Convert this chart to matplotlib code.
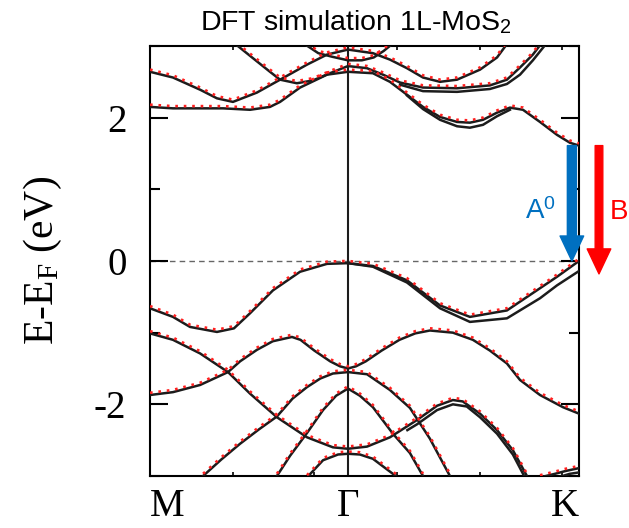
import matplotlib
matplotlib.use("Agg")
import matplotlib.pyplot as plt
import matplotlib.transforms as mtransforms

plt.rcParams['font.family'] = ['Liberation Serif', 'DejaVu Serif']
plt.rcParams['mathtext.fontset'] = 'custom'
plt.rcParams['mathtext.rm'] = 'Liberation Serif'
plt.rcParams['mathtext.it'] = 'Liberation Serif:italic'
plt.rcParams['mathtext.sf'] = 'Liberation Sans'

# path M - Gamma - K (Gamma-K is ~1.17x longer than M-Gamma)
k_points = [0.0, 1.0, 2.167]
k_labels = ["M", "Γ", "K"]
k_minor = [0.419, 0.828, 1.247, 1.667, 2.081]
y_major = [-2, 0, 2]
y_labels = ["-2", "0", "2"]
y_minor = [-3, -1, 1, 3]

# ---- valence bands (eV) ----
vb1_k = [0, 0.116, 0.202, 0.338, 0.424, 0.505, 0.621, 0.758, 0.894, 1.0,
         1.126, 1.298, 1.465, 1.616, 1.803, 1.970, 2.056, 2.167]
vb1_e = [-0.66, -0.78, -0.92, -0.99, -0.94, -0.73, -0.41, -0.15, -0.04, -0.03,
         -0.07, -0.27, -0.62, -0.78, -0.69, -0.38, -0.22, 0.0]
vb1s_k = [1.0, 1.126, 1.298, 1.465, 1.616, 1.803, 1.970, 2.056, 2.167]
vb1s_e = [-0.03, -0.08, -0.30, -0.66, -0.85, -0.80, -0.52, -0.34, -0.14]

vb2_k = [0, 0.116, 0.253, 0.394, 0.505, 0.641, 0.793, 0.924, 1.0, 1.096,
         1.212, 1.348, 1.45, 1.53, 1.58, 1.667, 1.753, 1.833, 1.904]
vb2_e = [-1.01, -1.10, -1.29, -1.55, -1.85, -2.18, -2.46, -2.60, -2.62, -2.59,
         -2.46, -2.22, -2.02, -1.94, -1.96, -2.13, -2.36, -2.64, -3.0]
vb2s_k = [1.3, 1.348, 1.45, 1.53, 1.6, 1.667, 1.753, 1.833, 1.89]
vb2s_e = [-2.36, -2.28, -2.08, -2.00, -2.03, -2.18, -2.41, -2.70, -3.0]

vb3_k = [0, 0.116, 0.253, 0.394, 0.455, 0.540, 0.62, 0.717, 0.76, 0.83, 0.91,
         0.96, 1.0, 1.04, 1.09, 1.17, 1.26, 1.34, 1.414, 1.53, 1.631, 1.717,
         1.803, 1.869, 1.970, 2.086, 2.167]
vb3_e = [-1.87, -1.83, -1.73, -1.55, -1.40, -1.24, -1.12, -1.06, -1.10, -1.25,
         -1.40, -1.47, -1.50, -1.47, -1.40, -1.25, -1.10, -1.01, -0.97, -1.00,
         -1.10, -1.25, -1.43, -1.66, -1.87, -2.04, -2.13]

vb4_k = [0.268, 0.36, 0.455, 0.55, 0.641, 0.72, 0.793, 0.86, 0.924, 1.0,
         1.096, 1.212, 1.313, 1.414, 1.515]
vb4_e = [-3.0, -2.77, -2.55, -2.35, -2.17, -1.92, -1.76, -1.64, -1.57, -1.55,
         -1.58, -1.80, -2.05, -2.48, -3.0]

vb5_k = [0.641, 0.707, 0.793, 0.874, 0.94, 1.0, 1.06, 1.126, 1.227, 1.313, 1.379]
vb5_e = [-3.0, -2.72, -2.40, -2.08, -1.88, -1.78, -1.88, -2.04, -2.41, -2.68, -3.0]

vb6_k = [0.793, 0.874, 0.95, 1.0, 1.06, 1.126, 1.227, 1.25]
vb6_e = [-3.02, -2.78, -2.70, -2.69, -2.70, -2.76, -2.97, -3.02]

vb7_k = [1.97, 2.045, 2.1, 2.167]
vb7_e = [-3.02, -2.97, -2.93, -2.89]
vb7s_k = [2.06, 2.12, 2.167]
vb7s_e = [-3.02, -2.97, -2.95]

# ---- conduction bands ----
cb1_k = [0, 0.116, 0.253, 0.369, 0.505, 0.606, 0.657, 0.758, 0.894, 1.0,
         1.126, 1.212, 1.298, 1.379, 1.465, 1.551, 1.616, 1.682, 1.753, 1.818,
         1.884, 1.970, 2.056, 2.121, 2.167]
cb1_e = [2.15, 2.13, 2.13, 2.13, 2.11, 2.15, 2.22, 2.42, 2.60, 2.64,
         2.62, 2.50, 2.32, 2.15, 2.01, 1.94, 1.93, 1.97, 2.07, 2.14,
         2.11, 1.94, 1.76, 1.65, 1.61]
cb1s_k = [1.298, 1.379, 1.465, 1.551, 1.616, 1.682, 1.753, 1.818]
cb1s_e = [2.31, 2.12, 1.97, 1.88, 1.86, 1.90, 2.02, 2.11]

cb2_k = [0.439, 0.520, 0.606, 0.657, 0.742, 0.823, 0.909, 1.0, 1.096, 1.177,
         1.263, 1.379, 1.551, 1.717, 1.803, 1.869, 1.934, 1.970]
cb2_e = [3.01, 2.83, 2.64, 2.53, 2.48, 2.52, 2.62, 2.72, 2.69, 2.60,
         2.49, 2.42, 2.41, 2.45, 2.53, 2.70, 2.88, 3.01]
cb2s_k = [1.263, 1.379, 1.551, 1.717, 1.803, 1.869, 1.934, 1.995]
cb2s_e = [2.46, 2.37, 2.36, 2.40, 2.47, 2.60, 2.80, 3.01]

cb3_k = [0, 0.116, 0.253, 0.338, 0.419, 0.540, 0.657, 0.793, 0.894, 1.0,
         1.126, 1.212, 1.298, 1.379, 1.465, 1.551, 1.667, 1.753, 1.793, 1.81]
cb3_e = [2.64, 2.56, 2.39, 2.27, 2.22, 2.35, 2.53, 2.74, 2.88, 2.95,
         2.90, 2.81, 2.69, 2.56, 2.50, 2.53, 2.67, 2.84, 2.99, 3.05]

cb4_k = [0.79, 0.85, 0.92, 1.0, 1.07, 1.13, 1.18, 1.22]
cb4_e = [3.01, 2.90, 2.85, 2.80, 2.80, 2.84, 2.93, 3.02]

main_bands = [(vb1_k, vb1_e), (vb2_k, vb2_e), (vb3_k, vb3_e), (vb4_k, vb4_e),
              (vb5_k, vb5_e), (vb6_k, vb6_e), (vb7_k, vb7_e),
              (cb1_k, cb1_e), (cb2_k, cb2_e), (cb3_k, cb3_e), (cb4_k, cb4_e)]
split_bands = [(vb1s_k, vb1s_e), (vb2s_k, vb2s_e), (vb7s_k, vb7s_e),
               (cb1s_k, cb1s_e), (cb2s_k, cb2s_e)]

fig = plt.figure(figsize=(6.29, 5.28), dpi=100)
ax = fig.add_axes([0.2385, 0.0985, 0.682, 0.8144])

black = "#1c1c1c"
for k, e in main_bands + split_bands:
    ax.plot(k, e, color=black, lw=1.8, solid_joinstyle="round", zorder=3)

# red dotted bands sit a hair above the black ones
red_shift = ax.transData + mtransforms.ScaledTranslation(0, 1.6/72, fig.dpi_scale_trans)
for k, e in main_bands:
    ax.plot(k, e, color="#ff2020", lw=1.9, linestyle=(0, (1, 2.2)),
            transform=red_shift, zorder=4)

ax.axvline(k_points[1], color=black, lw=1.5, zorder=2)
ax.axhline(0, color="#666666", lw=1.0, linestyle=(0, (4, 3)), zorder=1)

ax.set_xlim(k_points[0], k_points[-1])
ax.set_ylim(-3, 3)
for s in ax.spines.values():
    s.set_linewidth(1.5)

ax.set_yticks(y_major, y_labels)
ax.set_yticks(y_minor, minor=True)
ax.set_xticks(k_points, k_labels)
ax.set_xticks(k_minor, minor=True)
ax.tick_params(axis="y", which="major", direction="in", length=13, width=1.5,
               left=True, right=True, labelsize=28, pad=17)
ax.tick_params(axis="y", which="minor", direction="in", length=7, width=1.5,
               left=True, right=True)
ax.tick_params(axis="x", which="major", length=0, labelsize=28, pad=9)
ax.tick_params(axis="x", which="minor", direction="in", length=3, width=1.2,
               top=True, bottom=True)
xl = ax.get_xticklabels()
xl[0].set_ha("left")
xl[2].set_ha("right")

ax.set_ylabel(r"E-E$_\mathrm{F}$ (eV)", fontsize=30)
ax.yaxis.set_label_coords(-0.2, 0.5)

fig.text(0.565, 0.958, r"DFT simulation 1L-MoS$_\mathsf{2}$", family="Liberation Sans",
         fontsize=20.5, ha="center", va="center")

# optical transitions at K
k_a, k_b = 2.131, 2.268
ax.annotate("", xy=(k_a, vb1_e[-1]), xytext=(k_a, cb1_e[-1]),
            arrowprops=dict(arrowstyle="simple,head_width=1.7,head_length=1.8,tail_width=0.65",
                            color="#0070c0", shrinkA=0, shrinkB=0),
            annotation_clip=False, zorder=6)
ax.annotate("", xy=(k_b, vb1s_e[-1] - 0.04), xytext=(k_b, cb1_e[-1]),
            arrowprops=dict(arrowstyle="simple,head_width=1.7,head_length=1.8,tail_width=0.55",
                            color="#ff0000", shrinkA=0, shrinkB=0),
            annotation_clip=False, zorder=6)
ax.text(1.97, 0.69, r"A$^\mathsf{0}$", color="#0070c0", family="Liberation Sans",
        fontsize=20, ha="center", va="center", clip_on=False)
# only the B is visible at the right edge of the original
fig.text(0.9985, 0.598, "B", color="#ff0000", family="Liberation Sans",
         fontsize=20, ha="right", va="center")

fig.savefig("out.png", dpi=100)
